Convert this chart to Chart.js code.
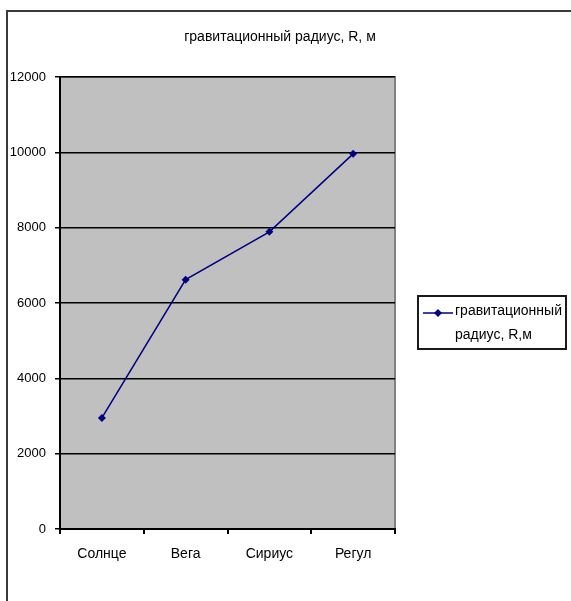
<!DOCTYPE html>
<html>
<head>
<meta charset="utf-8">
<script src="https://cdn.jsdelivr.net/npm/chart.js@4/dist/chart.umd.min.js"></script>
<style>
html,body{margin:0;padding:0;background:#fff;overflow:hidden;width:571px;height:601px;}
#wrap{position:relative;width:571px;height:601px;}
#c{position:absolute;left:0;top:0;}
#frame{position:absolute;left:6px;top:10px;width:640px;height:660px;border:2px solid #3a3a3a;box-sizing:border-box;pointer-events:none;}
</style>
</head>
<body>
<div id="wrap">
<div id="frame"></div>
<canvas id="c" width="571" height="601"></canvas>
</div>
<script>
const categories = ['Солнце', 'Вега', 'Сириус', 'Регул'];
const radiusValues = [2950, 6620, 7890, 9960];
const yTicks = [0, 2000, 4000, 6000, 8000, 10000, 12000];
const chartTitle = 'гравитационный радиус, R, м';
const seriesName = 'гравитационный радиус, R,м';
const legendLines = ['гравитационный', 'радиус, R,м'];

const FONT = "'Liberation Sans', Arial, sans-serif";
const NAVY = '#000080';

const plotBg = {
  id: 'plotBg',
  beforeDraw(chart) {
    const {ctx, chartArea: a} = chart;
    ctx.save();
    ctx.fillStyle = '#c0c0c0';
    ctx.fillRect(a.left, a.top, a.right - a.left, a.bottom - a.top);
    ctx.strokeStyle = '#808080';
    ctx.lineWidth = 2;
    ctx.beginPath();
    ctx.moveTo(a.left, a.top);
    ctx.lineTo(a.right, a.top);
    ctx.lineTo(a.right, a.bottom);
    ctx.stroke();
    ctx.restore();
  }
};

const titleAndLegend = {
  id: 'titleAndLegend',
  afterDraw(chart) {
    const ctx = chart.ctx;
    ctx.save();
    ctx.fillStyle = '#000';
    ctx.font = '14px ' + FONT;
    ctx.textAlign = 'center';
    ctx.textBaseline = 'middle';
    ctx.fillText(chartTitle, 280, 37);

    ctx.strokeStyle = '#1a1a1a';
    ctx.lineWidth = 2;
    ctx.strokeRect(418, 296, 148, 53);
    ctx.strokeStyle = NAVY;
    ctx.lineWidth = 1.5;
    ctx.beginPath();
    ctx.moveTo(423, 313);
    ctx.lineTo(453, 313);
    ctx.stroke();
    ctx.fillStyle = NAVY;
    ctx.beginPath();
    ctx.moveTo(438, 309);
    ctx.lineTo(442, 313);
    ctx.lineTo(438, 317);
    ctx.lineTo(434, 313);
    ctx.closePath();
    ctx.fill();
    ctx.fillStyle = '#000';
    ctx.font = '14px ' + FONT;
    ctx.textAlign = 'left';
    ctx.textBaseline = 'middle';
    ctx.fillText(legendLines[0], 455, 311);
    ctx.fillText(legendLines[1], 455, 335);
    ctx.restore();
  }
};

new Chart(document.getElementById('c'), {
  type: 'line',
  data: {
    labels: categories,
    datasets: [{
      label: seriesName,
      data: radiusValues,
      borderColor: NAVY,
      backgroundColor: NAVY,
      borderWidth: 1.5,
      pointStyle: 'rectRot',
      pointRadius: 4,
      pointBorderWidth: 0,
      tension: 0
    }]
  },
  options: {
    responsive: false,
    animation: false,
    devicePixelRatio: 1,
    layout: {padding: {left: 0, right: 176, top: 77, bottom: 0}},
    plugins: {
      legend: {display: false},
      tooltip: {enabled: false},
      title: {display: false}
    },
    scales: {
      x: {
        offset: true,
        afterFit(s) { s.height = 72; },
        grid: {offset: true, drawOnChartArea: false, drawTicks: true, tickLength: 5, color: '#000', lineWidth: 2},
        border: {display: true, color: '#000', width: 2},
        ticks: {color: '#000', padding: 12, font: {family: FONT, size: 14}, maxRotation: 0}
      },
      y: {
        min: 0,
        max: 12000,
        afterFit(s) { s.width = 60; },
        afterBuildTicks(s) { s.ticks = yTicks.map(v => ({value: v})); },
        grid: {color: '#000', lineWidth: 1.5, tickLength: 5, drawTicks: true},
        border: {display: true, color: '#000', width: 2},
        ticks: {color: '#000', padding: 9, font: {family: FONT, size: 13}, callback: (v) => String(v)}
      }
    }
  },
  plugins: [plotBg, titleAndLegend]
});
</script>
</body>
</html>
